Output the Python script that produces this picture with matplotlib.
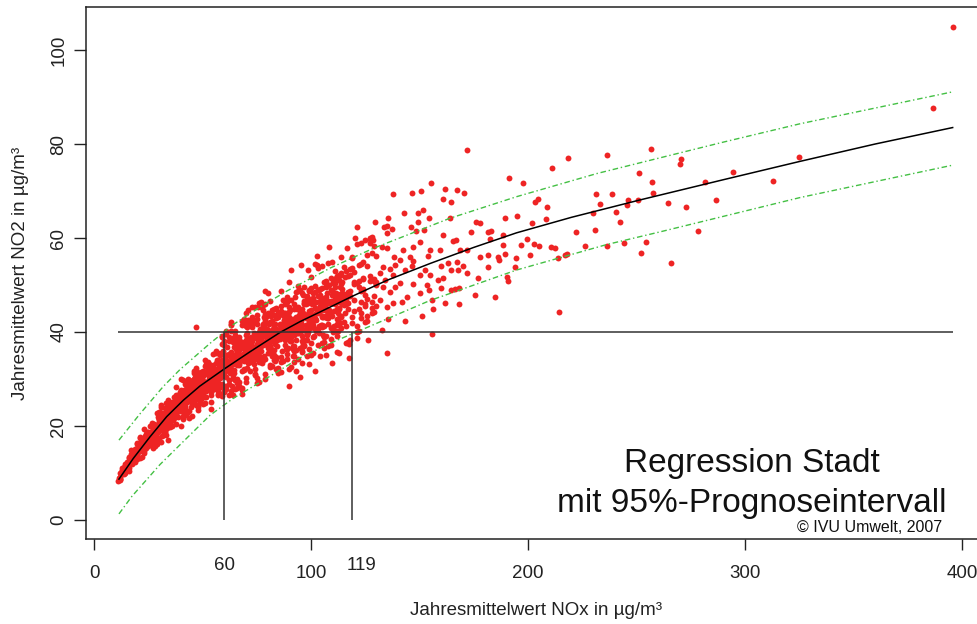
import matplotlib
matplotlib.use("Agg")
import matplotlib.pyplot as plt
from matplotlib.transforms import blended_transform_factory

# NOx / NO2 annual means (µg/m³)
band_lo = [
    (12, [8.5, 8.7, 10.0, 9.1, 8.8]),
    (13, [9.7, 10.6, 11.1, 10.4, 9.9]),
    (14, [9.8, 11.0, 10.3, 10.7, 11.2]),
    (15, [10.6, 11.7, 11.3, 12.3, 11.5]),
    (16, [10.5, 13.5, 11.1, 13.3, 11.6]),
    (17, [12.2, 13.4, 14.8, 12.9, 14.1]),
    (18, [12.6, 12.4, 13.7, 13.4, 13.1]),
    (19, [14.5, 15.1, 14.0, 14.7, 12.4]),
    (20, [12.9, 16.4, 14.1, 13.2, 14.4, 16.1]),
    (21, [13.1, 17.7, 17.4, 14.9, 15.1, 14.6]),
    (22, [16.1, 15.5, 14.8, 13.4, 15.1, 17.2]),
    (23, [19.4, 14.2, 17.5, 16.0, 17.1, 14.6]),
    (24, [17.4, 15.4, 15.8, 17.2, 16.2, 18.2]),
    (25, [18.8, 17.9, 17.5, 18.1, 15.8, 17.7]),
    (26, [16.3, 17.6, 17.2, 17.8, 19.9, 17.4]),
    (27, [15.8, 20.0, 18.6, 15.4, 19.5, 16.8]),
    (28, [19.6, 17.2, 15.8, 18.2, 19.9, 20.1]),
    (29, [18.7, 16.2, 17.7, 20.2, 22.7, 19.2]),
    (30, [19.7, 21.3, 21.8, 22.9, 22.3, 17.1, 21.5, 20.8]),
    (31, [21.3, 19.2, 24.4, 16.6, 24.1, 21.8, 21.6, 22.3]),
    (32, [20.2, 21.8, 18.1, 22.8, 22.6, 21.6, 22.0, 19.7]),
    (33, [24.9, 23.8, 22.8, 20.7, 20.9, 21.2, 18.1, 22.3]),
    (34, [22.4, 20.2, 23.5, 24.0, 23.3, 25.6, 20.0, 22.9, 17.0]),
    (35, [19.7, 24.7, 21.9, 20.3, 23.0, 20.8, 24.6, 24.9]),
    (36, [20.1, 21.8, 25.1, 21.6, 23.5, 22.0, 21.7, 24.0]),
    (37, [21.7, 23.9, 24.5, 22.2, 26.1, 22.8, 22.4, 22.0]),
    (38, [24.4, 22.6, 26.6, 24.2, 25.5, 28.3, 22.8, 20.4]),
    (39, [25.9, 24.8, 24.2, 25.4, 26.1, 25.0, 24.6, 24.4]),
]

band_mid = [
    (40, [23.5, 25.3, 24.1, 27.6, 29.9, 24.0, 25.1, 25.5, 20.0]),
    (41, [21.5, 23.8, 23.2, 22.1, 25.6, 29.7, 21.8, 26.2, 26.8]),
    (42, [22.4, 27.1, 23.6, 26.5, 28.9, 26.7, 23.8, 24.2, 24.8]),
    (43, [26.3, 25.1, 22.7, 28.1, 26.5, 22.9, 27.5, 27.9, 29.3]),
    (44, [27.3, 29.7, 23.1, 27.9, 26.7, 25.5, 26.1, 28.1, 27.1, 21.6]),
    (45, [24.6, 25.8, 26.4, 28.9, 22.1, 25.2, 27.1, 26.9, 26.6]),
    (46, [28.7, 28.0, 24.9, 31.8, 31.2, 27.4, 29.9, 28.9, 28.2]),
    (47, [25.8, 32.3, 29.7, 26.5, 27.8, 29.9, 28.4, 24.5, 32.0, 41.0]),
    (48, [29.4, 28.1, 24.1, 23.4, 30.8, 28.8, 29.6, 29.2, 28.3]),
    (49, [29.1, 28.4, 26.4, 25.0, 29.8, 30.4, 27.0, 27.7, 26.2]),
    (50, [24.6, 30.9, 31.6, 29.5, 30.7, 27.4, 26.6, 29.3, 28.1]),
    (51, [29.2, 27.7, 24.9, 34.1, 32.7, 29.4, 27.9, 27.5, 28.9]),
    (52, [28.1, 28.8, 31.0, 28.6, 29.0, 28.4, 31.7, 28.9, 32.5]),
    (53, [28.5, 31.4, 30.7, 31.6, 29.9, 32.2, 32.9, 32.0, 33.1]),
    (54, [27.4, 26.6, 25.1, 23.6, 31.9, 30.4, 30.2, 27.2, 28.9]),
    (55, [30.8, 32.3, 30.0, 31.0, 35.3, 33.0, 29.8, 29.2, 30.6]),
    (56, [33.5, 35.9, 35.6, 31.2, 30.4, 31.0, 31.9, 30.2, 35.8]),
    (57, [26.7, 32.4, 34.0, 27.5, 31.6, 26.9, 29.1, 35.6, 30.0]),
    (58, [26.9, 28.6, 33.6, 35.3, 35.1, 31.1, 31.3, 28.4, 30.3]),
    (59, [34.1, 32.4, 37.5, 39.2, 30.6, 38.9, 28.9, 32.2, 26.3]),
    (60, [33.6, 37.2, 31.0, 27.5, 27.8, 32.8, 27.2, 38.0, 31.9, 28.4]),
    (61, [34.1, 27.8, 32.3, 33.2, 30.5, 40.3, 28.6, 32.0, 39.5]),
    (62, [35.3, 38.1, 28.9, 33.5, 39.0, 29.8, 33.3, 31.7, 33.7, 26.6]),
    (63, [27.4, 32.0, 42.1, 41.8, 41.5, 35.7, 33.9, 40.3, 32.9]),
    (64, [37.9, 38.8, 26.7, 38.6, 35.1, 33.2, 30.4, 34.2, 31.4]),
    (65, [40.3, 29.8, 38.4, 39.3, 27.9, 33.6, 39.0, 34.6, 33.8]),
    (66, [35.8, 34.9, 36.8, 28.1, 36.0, 32.9, 30.1, 29.1, 35.6]),
    (67, [34.2, 33.3, 36.2, 39.0, 29.4, 33.0, 33.5, 38.1, 28.5]),
    (68, [42.4, 34.6, 27.7, 28.0, 26.9, 31.6, 36.5, 37.5, 41.4]),
    (69, [33.9, 42.8, 37.9, 41.8, 34.9, 31.9, 35.1, 37.7, 32.1]),
    (70, [29.3, 34.3, 35.3, 41.3, 39.3, 37.3, 38.3, 30.3, 35.0, 44.1]),
    (71, [44.6, 34.5, 34.3, 36.5, 33.5, 42.6, 37.5, 37.2, 42.3]),
    (72, [31.6, 33.7, 41.9, 35.7, 41.6, 38.8, 37.8, 35.5, 38.0]),
    (73, [43.1, 42.1, 38.0, 33.9, 41.8, 42.3, 37.0, 41.1, 42.0, 45.4]),
    (74, [36.2, 36.5, 31.1, 35.9, 32.1, 42.4, 34.2, 35.2, 30.8]),
    (75, [29.2, 39.6, 43.7, 41.7, 35.4, 30.2, 42.7, 37.5, 39.3]),
]

band_mid2 = [
    (76, [35.7, 34.6, 29.4, 46.1, 33.6, 34.9, 39.8, 40.0, 36.7]),
    (77, [46.4, 45.4, 33.8, 40.1, 39.1, 37.0, 35.9, 40.3, 33.6]),
    (78, [45.7, 34.0, 39.3, 41.4, 39.5, 37.2, 44.6, 41.6, 41.2]),
    (79, [41.7, 30.0, 42.7, 31.1, 45.9, 42.4, 37.4, 43.8, 34.3, 48.7]),
    (80, [36.6, 38.8, 39.8, 35.5, 40.0, 37.7, 37.5, 48.4, 44.1]),
    (81, [40.1, 32.6, 42.2, 36.9, 37.1, 32.9, 37.9, 35.8, 46.5]),
    (82, [40.3, 34.9, 38.1, 44.6, 36.0, 35.1, 40.5, 32.8, 42.4]),
    (83, [41.6, 39.4, 41.3, 38.3, 36.2, 44.8, 35.1, 43.7, 34.0]),
    (84, [34.3, 39.7, 38.6, 45.1, 34.6, 39.9, 40.7, 42.9, 32.1]),
    (85, [38.8, 39.9, 32.3, 43.1, 31.3, 40.1, 31.6, 43.4, 44.2]),
    (86, [33.6, 31.4, 41.2, 45.6, 41.0, 41.4, 34.7, 44.5, 48.8]),
    (87, [40.3, 43.6, 33.8, 40.6, 46.8, 39.2, 41.4, 40.0, 40.5]),
    (88, [43.8, 44.1, 46.0, 37.3, 39.5, 38.4, 41.6, 42.7, 43.0]),
    (89, [44.1, 36.4, 41.9, 46.3, 47.4, 35.3, 43.0, 40.8, 34.2]),
    (90, [32.2, 41.0, 42.1, 41.3, 41.8, 45.4, 44.3, 43.2, 38.8, 28.5]),
    (91, [38.0, 39.1, 46.8, 32.5, 41.3, 38.9, 40.2, 42.4, 42.1]),
    (92, [36.0, 44.8, 41.5, 39.3, 40.4, 33.7, 45.9, 37.1, 34.8]),
    (93, [42.9, 41.8, 41.5, 48.5, 31.7, 45.1, 38.4, 36.2, 43.1]),
    (94, [49.8, 40.9, 45.4, 42.0, 39.8, 42.3, 34.2, 48.7, 43.1]),
    (95, [44.5, 40.0, 36.6, 43.4, 41.1, 41.4, 43.7, 42.3, 49.0, 30.4]),
    (96, [44.8, 48.2, 35.7, 39.1, 33.5, 36.9, 36.0, 41.4, 38.0]),
    (97, [46.2, 43.9, 37.1, 46.5, 40.5, 37.3, 45.9, 38.2, 49.6]),
    (98, [39.6, 47.6, 39.3, 35.0, 39.9, 47.3, 39.5, 38.4, 43.0]),
    (99, [41.0, 43.3, 46.7, 49.0, 48.7, 44.4, 42.1, 43.0, 36.4]),
    (100, [49.3, 35.4, 44.7, 43.5, 47.0, 42.3, 35.1, 51.6, 37.7]),
]

band_hi = [
    (101, [39.0, 35.5, 48.4, 47.2, 41.4, 42.5, 42.3]),
    (102, [45.1, 54.5, 42.8, 46.3, 49.8, 48.6, 43.0]),
    (103, [44.2, 48.9, 47.7, 44.0, 40.7, 53.6, 37.2]),
    (104, [44.4, 47.9, 44.6, 46.7, 35.0, 45.6, 49.1]),
    (105, [37.6, 54.0, 41.1, 49.3, 41.4, 43.4, 43.2]),
    (106, [41.3, 47.2, 46.0, 37.8, 50.7, 36.7, 39.0]),
    (107, [49.8, 49.5, 45.1, 50.9, 39.2, 47.4, 46.3]),
    (108, [46.5, 43.0, 37.1, 44.1, 54.7, 41.8, 50.0]),
    (109, [46.7, 37.3, 51.4, 40.8, 49.0, 38.5, 44.3]),
    (110, [50.4, 48.1, 39.9, 50.7, 48.4, 41.1, 48.6]),
    (111, [50.7, 49.5, 46.0, 47.2, 50.4, 53.0, 40.2]),
    (112, [42.7, 41.5, 35.7, 41.8, 52.0, 39.2, 45.0]),
    (113, [46.4, 45.2, 45.0, 42.9, 47.6, 52.2, 51.1]),
    (114, [52.5, 40.8, 43.1, 50.2, 52.2, 56.0, 43.4]),
    (115, [48.1, 47.8, 46.9, 45.7, 53.9, 47.1, 42.2]),
    (116, [52.9, 45.9, 47.1, 37.7, 41.3]),
    (117, [52.0, 46.1, 45.0, 37.9, 48.5]),
    (118, [47.6, 53.4, 52.2, 48.7, 38.2]),
    (119, [43.1, 56.0, 42.0, 55.7, 53.6]),
    (120, [50.3, 52.7, 50.6, 46.8, 44.5]),
    (121, [38.8, 58.7, 50.5, 40.0, 41.2]),
    (122, [50.8, 40.3, 49.6, 44.9, 54.3]),
    (123, [42.9, 46.4, 44.0, 48.7, 54.5]),
    (124, [48.9, 49.2, 51.2, 54.8, 51.5]),
    (125, [47.9, 42.1, 59.6, 45.6, 45.9]),
    (126, [56.4, 47.0, 42.3, 43.5, 54.0]),
    (127, [60.1, 59.8, 58.9, 50.8, 51.9]),
    (128, [56.8, 44.0, 60.3, 46.3, 45.1]),
    (129, [58.2, 44.2, 51.2, 50.9, 47.7]),
    (130, [50.3, 50.0, 50.6, 56.1, 45.6]),
]

# the solid core of the cloud, between the columns above
band_core = [
    (14.5, [11.9, 9.9, 10.5, 10.7]), (15.5, [11.9, 11.6, 12.3, 10.6]),
    (16.5, [12.1, 12.9, 13.2, 12.6]), (17.5, [11.9, 12.2, 12.8, 12.6]),
    (18.5, [14.6, 12.9, 13.5, 12.7]), (19.5, [14.1, 14.2, 15.2, 15.0]),
    (20.5, [15.0, 15.9, 16.1, 14.4]), (21.5, [15.7, 16.5, 16.7, 15.9]),
    (22.5, [15.9, 16.3, 16.5, 17.2]), (23.5, [16.5, 17.9, 16.0, 15.5]),
    (24.5, [18.8, 17.5, 17.3, 18.6]), (25.5, [17.0, 17.8, 17.2, 17.4]),
    (26.5, [20.6, 18.0, 16.6, 18.9]), (27.5, [19.2, 19.8, 20.4, 18.6]),
    (28.5, [18.8, 17.2, 18.2, 20.0]), (29.5, [19.7, 18.7, 19.9, 22.0]),
    (30.5, [21.2, 22.9, 19.8, 22.5]), (31.5, [21.7, 21.3, 19.3, 17.9]),
    (32.5, [18.8, 19.0, 21.2, 23.9]), (33.5, [19.6, 23.1, 21.4, 21.6]),
    (34.5, [20.5, 24.1, 23.1, 22.0]), (35.5, [22.8, 23.6, 21.0, 21.4]),
    (36.5, [23.0, 24.1, 21.2, 24.4]), (37.5, [24.1, 24.5, 23.7, 24.3]),
    (38.5, [26.5, 24.2, 22.0, 26.3]), (39.5, [26.5, 23.1, 27.3, 23.9]),
    (40.5, [25.4, 23.9, 25.0, 25.8]), (41.5, [27.7, 22.8, 27.5, 27.3]),
    (42.5, [25.7, 28.8, 26.1, 26.9]), (43.5, [30.0, 29.4, 28.8, 25.7]),
    (44.5, [24.1, 26.9, 26.1, 27.1]), (45.5, [25.6, 29.7, 27.2, 25.2]),
    (46.5, [29.7, 28.4, 30.5, 27.2]), (47.5, [25.7, 31.4, 26.6, 27.9]),
    (48.5, [27.8, 25.6, 28.7, 28.0]), (49.5, [31.4, 25.8, 28.6, 26.1]),
    (50.5, [26.2, 28.0, 31.3, 29.4]), (51.5, [26.1, 29.4, 27.5, 33.1]),
    (52.5, [28.8, 33.6, 29.0, 32.6]), (53.5, [30.2, 31.1, 29.2, 28.2]),
    (54.5, [30.1, 30.3, 32.5, 32.7]), (55.5, [32.0, 28.9, 27.9, 29.9]),
    (56.5, [34.0, 29.8, 28.2, 31.4]), (57.5, [29.0, 33.4, 32.3, 28.5]),
    (58.5, [35.5, 31.6, 32.7, 32.2]), (59.5, [32.0, 32.6, 36.0, 35.8]),
    (60.5, [34.7, 33.0, 31.8, 32.4]), (61.5, [35.1, 36.9, 33.3, 32.7]),
    (62.5, [34.9, 33.7, 32.5, 31.3]), (63.5, [34.0, 34.3, 35.2, 28.6]),
    (64.5, [30.0, 31.3, 31.9, 36.8]), (65.5, [36.6, 37.2, 36.3, 34.7]),
    (66.5, [36.2, 35.6, 36.5, 33.8]), (67.5, [38.0, 34.8, 37.3, 35.0]),
    (68.5, [35.1, 35.3, 37.0, 34.9]), (69.5, [34.8, 36.1, 35.0, 34.6]),
    (70.5, [36.4, 39.7, 41.0, 32.4]), (71.5, [35.3, 36.6, 35.9, 37.3]),
    (72.5, [34.9, 35.6, 38.9, 37.6]), (73.5, [39.8, 39.1, 33.1, 35.1]),
    (74.5, [36.7, 36.0, 39.4, 38.8]), (75.5, [34.2, 35.6, 37.6, 38.3]),
    (76.5, [37.9, 39.3, 39.0, 40.6]), (77.5, [33.3, 34.0, 38.1, 39.5]),
    (78.5, [43.2, 35.0, 39.1, 40.5]), (79.5, [38.6, 37.2, 40.7, 43.5]),
    (80.5, [36.8, 39.6, 40.3, 41.7]), (81.5, [39.1, 43.3, 44.0, 36.3]),
    (82.5, [40.0, 40.7, 38.6, 39.3]), (83.5, [39.5, 37.4, 33.9, 41.6]),
    (84.5, [39.1, 38.4, 37.0, 40.5]), (85.5, [41.4, 39.3, 38.6, 41.7]),
    (86.5, [40.9, 35.9, 43.8, 41.1]), (87.5, [44.0, 42.5, 41.8, 42.3]),
    (88.5, [36.4, 39.3, 40.7, 42.9]), (89.5, [36.6, 39.5, 41.1, 41.6]),
    (90.5, [38.2, 44.7, 41.8, 38.0]), (91.5, [42.8, 37.1, 36.4, 34.9]),
    (92.5, [41.6, 41.9, 40.1, 47.4]), (93.5, [44.8, 40.4, 39.7, 41.9]),
    (94.5, [41.4, 39.9, 42.1, 43.6]), (95.5, [43.1, 41.7, 42.4, 43.9]),
    (96.5, [37.4, 40.4, 47.8, 44.1]), (97.5, [42.9, 45.9, 40.7, 41.4]),
    (98.5, [40.9, 46.1, 43.9, 40.1]), (99.5, [43.4, 44.2, 41.2, 40.9]),
    (100.5, [43.6, 41.3, 45.9, 41.6]), (101.5, [39.2, 46.1, 46.4, 40.8]),
    (102.5, [44.1, 40.3, 42.6, 46.4]), (103.5, [39.7, 45.1, 41.3, 48.9]),
    (104.5, [46.0, 46.8, 45.7, 41.5]), (105.5, [44.7, 45.5, 39.4, 43.2]),
    (106.5, [45.8, 47.3, 43.5, 43.2]), (107.5, [44.4, 42.9, 48.2, 49.8]),
    (108.5, [43.9, 44.6, 50.0, 46.2]), (109.5, [43.3, 47.9, 46.4, 46.1]),
    (110.5, [48.2, 46.7, 41.3, 44.4]), (111.5, [48.4, 47.6, 47.9, 51.4]),
    (112.5, [40.2, 51.6, 44.0, 47.1]), (113.5, [47.3, 48.0, 41.9, 49.5]),
    (114.5, [50.6, 49.1, 48.3, 46.0]), (115.5, [46.2, 51.6, 47.8, 44.0]),
]

halo_pts = [
    (11.0, 8.4), (11.6, 8.9), (101.8, 31.7), (99.2, 33.2), (106.9, 35.1),
    (109.5, 33.3), (112.8, 35.5), (117.5, 34.4), (117.7, 37.4), (126.4, 38.3),
    (129.5, 63.3), (135.0, 62.6), (135.0, 61.0), (121.1, 62.4), (122.9, 58.9),
    (120.3, 59.9), (128.7, 59.6), (108.5, 58.0), (116.7, 57.8), (109.5, 54.9),
    (102.6, 56.2), (102.9, 54.3), (95.2, 54.3), (90.6, 53.1), (98.8, 53.2),
    (90.0, 50.7), (74.2, 45.4), (75.7, 45.3),
]

sparse_pts = [
    (210.9, 74.8), (191.4, 72.8), (197.5, 71.6), (155.1, 71.6), (137.6, 69.3),
    (146.5, 69.5), (150.8, 70.0), (161.9, 70.4), (167.4, 70.2), (170.5, 69.5),
    (160.7, 68.3), (164.3, 67.6), (203.2, 67.7), (204.8, 68.3), (208.6, 66.7),
    (142.9, 65.4), (149.5, 65.4), (151.8, 65.9), (135.5, 64.3), (164.1, 64.2),
    (189.4, 64.2), (195.1, 64.7), (201.7, 63.2), (208.1, 64.0), (133.8, 62.4),
    (137.2, 62.0), (146.1, 62.4), (149.1, 63.5), (154.2, 64.3), (176.0, 63.3),
    (177.9, 63.1), (173.9, 61.3), (181.6, 61.3), (183.1, 61.5), (188.4, 60.6),
    (152.1, 61.8), (148.4, 61.4), (160.9, 60.6), (165.3, 59.4), (166.8, 59.6),
    (182.5, 59.8), (199.6, 59.8), (202.8, 58.8), (205.2, 58.3), (210.4, 58.0),
    (197.0, 58.6), (188.3, 58.6), (132.6, 58.0), (134.9, 57.8), (142.6, 57.5),
    (147.2, 58.0), (150.3, 59.2), (154.9, 57.4), (159.5, 57.5), (168.7, 57.4),
    (171.8, 57.4), (177.9, 56.0), (181.6, 56.4), (186.3, 56.0), (186.8, 55.3),
    (189.6, 56.5), (194.4, 55.8), (200.9, 56.3), (214.0, 55.7), (212.4, 57.8),
    (138.2, 56.0), (141.0, 55.3), (145.6, 56.0), (146.8, 55.2), (154.1, 56.2),
    (133.3, 53.9), (136.4, 53.5), (138.7, 54.3), (143.3, 53.2), (146.4, 54.0),
    (150.1, 52.1), (152.4, 53.2), (154.7, 52.1), (160.1, 54.0), (160.6, 51.4),
    (163.3, 54.6), (164.3, 53.2), (167.4, 55.0), (167.9, 53.2), (170.2, 54.0),
    (172.0, 52.5), (177.1, 51.4), (181.6, 53.8), (190.3, 51.8), (190.8, 50.9),
    (194.2, 53.9), (131.8, 52.5), (137.9, 52.1), (134.1, 51.1), (141.0, 50.4),
    (146.8, 50.2), (153.3, 50.0), (154.5, 48.9), (158.6, 51.1), (160.1, 49.3),
    (164.3, 48.9), (166.3, 49.1), (168.3, 49.3), (133.3, 49.6), (136.4, 48.6),
    (138.7, 49.6), (144.1, 47.5), (150.0, 48.2), (131.8, 46.8), (134.9, 45.4),
    (137.9, 46.1), (141.8, 46.4), (155.6, 46.8), (161.7, 46.2), (168.3, 46.0),
    (175.6, 47.9), (184.8, 47.5), (156.4, 44.9), (151.0, 43.4), (143.3, 42.4),
    (135.6, 42.7), (132.6, 40.4), (155.6, 39.5), (214.2, 44.3), (134.9, 35.5),
    (172.0, 78.7), (218.4, 77.1), (236.3, 77.7), (256.5, 78.9), (251.0, 73.8),
    (257.3, 72.0), (231.3, 69.4), (238.6, 69.4), (257.8, 69.6), (233.2, 67.3),
    (246.3, 68.0), (245.5, 67.0), (240.6, 65.6), (242.4, 63.5), (222.0, 61.2),
    (231.1, 61.8), (226.4, 58.2), (236.6, 58.3), (244.4, 59.0), (254.6, 59.2),
    (252.3, 56.9), (218.1, 56.7), (217.0, 56.4), (250.9, 68.1), (230.1, 65.3),
    (395.7, 105.0), (386.5, 87.6), (270.4, 76.8), (270.1, 75.7), (294.6, 74.0),
    (325.0, 77.2), (281.7, 71.9), (313.1, 72.2), (286.6, 68.1), (264.7, 67.5),
    (272.8, 66.6), (278.2, 61.4), (265.8, 54.6),
]

# regression curve and 95% prediction interval
fit_nox = [11.5, 18.1, 25.8, 33.5, 41.2, 48.8, 59.9, 71.9, 85.7, 94.9, 108.8,
           119.0, 135.0, 155.0, 175.0, 194.7, 220.0, 251.6, 290.0, 325.3, 360.0, 395.7]
fit_no2 = [8.7, 13.1, 17.7, 22.0, 25.5, 28.5, 32.1, 35.8, 39.9, 42.2, 45.3,
           47.6, 51.0, 54.6, 58.0, 61.1, 64.4, 68.1, 72.4, 76.3, 80.0, 83.5]
upper_nox = [11.5, 21.2, 31.9, 39.6, 53.5, 64.2, 76.5, 88.8, 108.8, 128.7, 164.0,
             194.8, 231.6, 251.6, 290.0, 325.3, 395.7]
upper_no2 = [17.0, 22.6, 28.4, 32.0, 37.6, 41.6, 45.3, 48.7, 53.6, 57.8, 64.2,
             68.8, 73.7, 76.0, 80.4, 84.3, 91.1]
lower_nox = [11.5, 17.4, 30.4, 42.7, 53.5, 64.2, 76.5, 94.9, 108.8, 154.8, 194.8,
             236.2, 260.8, 325.3, 395.7]
lower_no2 = [1.3, 5.0, 11.8, 17.4, 22.3, 25.9, 29.3, 34.5, 37.6, 46.7, 53.2,
             58.6, 61.3, 68.6, 75.5]

limit_no2 = 40
cut_nox = [60, 119]
xticks = [0, 100, 200, 300, 400]
yticks = [0, 20, 40, 60, 80, 100]

plt.rcParams['font.family'] = ['Liberation Sans', 'DejaVu Sans']

nox, no2 = [], []
for block in (band_lo, band_mid, band_mid2, band_hi, band_core):
    for x, ys in block:
        nox += [x] * len(ys)
        no2 += ys
for x, y in halo_pts + sparse_pts:
    nox.append(x)
    no2.append(y)

fig = plt.figure(figsize=(9.77, 6.24), dpi=100)
ax = fig.add_axes([86 / 977, 85 / 624, 900 / 977, 532 / 624])

ax.scatter(nox, no2, s=18, c='#ee2424', marker='o', linewidths=0, zorder=2)
ax.plot(fit_nox, fit_no2, color='black', lw=1.1, zorder=4)
ax.plot(upper_nox, upper_no2, color='#44c044', lw=1.0, ls=(0, (4, 2, 1, 2)), zorder=3)
ax.plot(lower_nox, lower_no2, color='#44c044', lw=1.0, ls=(0, (4, 2, 1, 2)), zorder=3)

ax.hlines(limit_no2, min(nox), max(nox), color='#333333', lw=1.1, zorder=5)
ax.vlines(cut_nox, 0, limit_no2, color='#333333', lw=1.1, zorder=5)

ax.set_xlim(-3.69, 411.06)
ax.set_ylim(-4.04, 109.15)

for side in ('left', 'bottom', 'top'):
    ax.spines[side].set_linewidth(1.1)
    ax.spines[side].set_color('#222222')
ax.spines['right'].set_visible(False)

ax.set_xticks(xticks)
ax.set_yticks(yticks)
ax.tick_params(axis='x', direction='out', length=8, width=1, pad=11,
               labelsize=13.5, colors='#222222')
ax.tick_params(axis='y', direction='out', length=8.5, width=1, pad=5,
               labelsize=13.5, colors='#222222')
plt.setp(ax.get_yticklabels(), rotation=90, va='center')

trans = blended_transform_factory(ax.transData, fig.transFigure)
ax.text(cut_nox[0], 59 / 624, str(cut_nox[0]), transform=trans,
        ha='center', va='center', fontsize=13.5, color='#222222')
ax.annotate(str(cut_nox[1]), xy=(cut_nox[1], 59 / 624), xycoords=trans,
            xytext=(7, 0), textcoords='offset points',
            ha='center', va='center', fontsize=13.5, color='#222222')

ax.set_xlabel('Jahresmittelwert NOx in µg/m³', fontsize=13.5, labelpad=14, color='#222222')
ax.set_ylabel('Jahresmittelwert NO2 in µg/m³', fontsize=13.5, labelpad=15, color='#222222')

fig.text(752 / 977, 152 / 624, 'Regression Stadt', ha='center', va='baseline',
         fontsize=24, color='#111111')
fig.text(752 / 977, 112 / 624, 'mit 95%-Prognoseintervall', ha='center', va='baseline',
         fontsize=24, color='#111111')
fig.text(942 / 977, 92 / 624, '© IVU Umwelt, 2007', ha='right', va='baseline',
         fontsize=11.5, color='#111111')

fig.savefig('out.png', dpi=100)
